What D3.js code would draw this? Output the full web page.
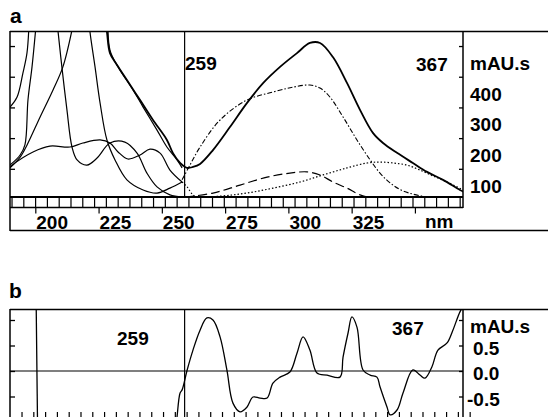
<!DOCTYPE html>
<html>
<head>
<meta charset="utf-8">
<script src="https://cdn.jsdelivr.net/npm/d3@7"></script>
<style>
  body { margin: 0; background: #fff; }
  svg { display: block; }
  text { font-family: Arial, "Liberation Sans", Helvetica, sans-serif; font-weight: bold; fill: #000; }
</style>
</head>
<body>
<svg width="548" height="417"></svg>
<script>
// ---- data (wavelength nm, mAU.s) ----
const xTicks = [200, 225, 250, 275, 300, 325, 350];
const xTickLabels = ["200", "225", "250", "275", "300", "325", ""];
const yTicksA = [100, 200, 300, 400, 500];
const yLabelsA = ["100", "200", "300", "400", "mAU.s"];
const yTicksB = [-0.5, 0, 0.5, 1.0];
const yLabelsB = [[-0.5, "-0.5"], [0, "0.0"], [0.5, "0.5"], [1.0, "mAU.s"]];
const markers = [259];

// main spectrum (thick solid)
const specMain = [[227.1,617],[228.3,546],[229.5,477],[232.3,438],[236.2,389],[241.4,324],[246.5,259],
  [252.0,194],[254.4,151],[257.2,119],[259.9,103],[262.3,106],[265.1,116],[270.2,161],[276.9,236],
  [283.6,314],[290.0,379],[296.7,432],[303.4,477],[308.5,510],[312.5,510],[317.6,464],[323.2,379],
  [328.3,292],[333.4,217],[337.4,184],[342.9,152],[349.2,119],[354.8,90],[361.1,64],[367.8,31],[369.5,24]];
// second solid close to main
const specMain2 = [[228.7,585],[229.5,487],[232.7,432],[238.6,357],[242.6,301],[248.1,226],[252.0,171],[256.0,129],[258.0,103]];
// spectra at low wavelength (thin solid)
const specL1 = [[190,301],[192.8,334],[195.1,412],[196.7,477],[197.5,568]];
const specL2 = [[190,112],[194.0,145],[195.9,178],[197.1,324],[198.7,432],[200.3,568]];
const specL3 = [[190,103],[194.0,138],[196.7,177],[201.9,269],[207.0,357],[210.9,432],[214.9,568]];
const specL5 = [[208.6,585],[209.0,546],[210.5,432],[212.5,292],[214.5,171],[216.5,129],[220.4,112],[224.4,135],
  [229.5,184],[235.4,187],[240.2,151],[244.1,86],[248.1,41],[253.2,15],[258.0,8]];
const specL6 = [[221.2,585],[221.6,546],[223.6,432],[225.6,314],[228.3,194],[231.5,129],[236.2,64],[242.6,31],
  [248.1,21],[253.2,37],[258.0,57]];
const specH1 = [[190,106],[190.8,112],[199.1,155],[205.8,174],[213.7,171],[218.8,184],[225.6,194],[229.5,184],
  [232.7,155],[236.6,132],[241.4,145],[245.3,164],[249.3,151],[253.2,96],[258.0,57]];
const specH1tail = [[258.0,57],[260.0,41],[262.3,15],[265.1,5],[270,2]];
// components
const compDashDot = [[258.0,64],[261.1,112],[265.1,171],[273.0,259],[283.6,324],[293.9,350],[301.8,366],
  [308.5,373],[312.5,363],[316.4,334],[321.6,269],[327.1,194],[332.3,129],[336.2,86],[340.2,54],[345.3,28],
  [354.8,8],[363.9,2]];
const compLongDash = [[259.2,8],[270.2,21],[280.9,47],[291.6,73],[300.6,86],[307.4,90],[312.5,80],[317.6,57],
  [323.2,37],[328.3,15],[333.4,5],[340.2,2]];
const compDotted = [[259.2,5],[273.0,11],[283.6,21],[293.9,37],[304.6,57],[313.7,80],[323.2,103],[331.1,119],
  [336.2,122],[341.3,119],[346.9,112],[352.0,96],[357.1,77],[362.7,57],[369.0,31]];
// first derivative (panel b)
const deriv = [[199.5,4],[200.3,1.5],[201.1,-2],[202,-5],[254,-5],[255.6,-1.06],[256.0,-0.90],[257.2,-0.43],
  [258.0,-0.37],[260.0,0.02],[262.3,0.41],[265.1,0.80],[267.8,1.04],[270.2,1.0],[273.0,0.67],[275.7,0.02],
  [278.1,-0.63],[280.9,-0.80],[283.6,-0.71],[286.0,-0.51],[288.8,-0.53],[291.6,-0.53],[293.9,-0.24],
  [296.7,-0.12],[300.6,-0.02],[303.4,0.35],[305.8,0.67],[308.5,0.41],[311.3,-0.04],[315.3,-0.08],
  [320.4,-0.12],[321.6,0.27],[323.6,0.75],[325.1,1.06],[327.1,0.86],[329.5,0.02],[332.3,-0.08],
  [335.0,-0.12],[336.2,-0.31],[339.0,-0.71],[340.2,-0.86],[343.0,-0.76],[345.3,-0.43],[349.2,0.02],
  [352.0,-0.08],[354.0,-0.14],[356.7,0.08],[359.1,0.41],[362.7,0.55],[365.0,0.80],[367.8,1.16],[369.5,1.3]];

const svg = d3.select("svg");

const left = 10, right = 463, edge = 548;
const x = d3.scaleLinear().domain([190, 369]).range([left, right]);
const ya = d3.scaleLinear().domain([0, 549]).range([199.5, 31]);
const yb = d3.scaleLinear().domain([0, 1]).range([371, 320]);

// clip regions
const defs = svg.append("defs");
defs.append("clipPath").attr("id", "clipA").append("rect")
  .attr("x", left).attr("y", 31).attr("width", right - left).attr("height", 166);
defs.append("clipPath").attr("id", "clipB").append("rect")
  .attr("x", left).attr("y", 309).attr("width", right - left).attr("height", 108);

const lineA = d3.line().x((d) => x(d[0])).y((d) => ya(d[1])).curve(d3.curveCatmullRom.alpha(0.5));
const lineB = d3.line().x((d) => x(d[0])).y((d) => yb(d[1])).curve(d3.curveCatmullRom.alpha(0.5));

const hline = (g, x1, x2, y, w) => g.append("line").attr("x1", x1).attr("x2", x2).attr("y1", y).attr("y2", y)
  .attr("stroke", "#000").attr("stroke-width", w || 1.3);
const vline = (g, xx, y1, y2, w) => g.append("line").attr("x1", xx).attr("x2", xx).attr("y1", y1).attr("y2", y2)
  .attr("stroke", "#000").attr("stroke-width", w || 1.3);

// ================= panel a =================
const ga = svg.append("g");
ga.append("text").attr("x", 10).attr("y", 23).style("font-size", "21px").text("a");

hline(ga, left, edge, 31.5, 1.5);
hline(ga, left, edge, 230.5, 1.5);
vline(ga, left, 31, 231, 1.5);
vline(ga, right, 31, 208, 1.5);

// spectra
const curves = ga.append("g").attr("clip-path", "url(#clipA)").attr("fill", "none").attr("stroke", "#000");
const series = [
  [specL1, 1.2, null], [specL2, 1.2, null], [specL3, 1.2, null], [specL5, 1.2, null],
  [specL6, 1.2, null], [specH1, 1.2, null], [specH1tail, 1.1, "1.5,2"],
  [specMain2, 1.2, null], [specMain, 1.8, null],
  [compDashDot, 1.1, "5,2,1.5,2"], [compLongDash, 1.2, "9,4"], [compDotted, 1.2, "1.5,2"]
];
curves.selectAll("path").data(series).enter().append("path")
  .attr("d", (d) => lineA(d[0]))
  .attr("stroke-width", (d) => d[1])
  .attr("stroke-dasharray", (d) => d[2]);

// marker line
markers.forEach((m) => vline(ga, x(m), 31, 197, 1.2));
ga.append("text").attr("x", 185).attr("y", 70).style("font-size", "19px").text("259");
ga.append("text").attr("x", 416).attr("y", 71).style("font-size", "19px").text("367");

// y ticks, inward on both sides
ga.append("g").attr("transform", `translate(${left},0)`)
  .call(d3.axisRight(ya).tickValues(yTicksA).tickSize(5).tickFormat(""))
  .call((g) => g.select(".domain").remove())
  .selectAll("line").attr("stroke-width", 1.3);
ga.append("g").attr("transform", `translate(${right},0)`)
  .call(d3.axisLeft(ya).tickValues(yTicksA).tickSize(4).tickFormat(""))
  .call((g) => g.select(".domain").remove())
  .selectAll("line").attr("stroke-width", 1.3);
ga.selectAll(".ylab").data(yTicksA).enter().append("text")
  .attr("x", 470).attr("y", (d) => ya(d) + 24)
  .style("font-size", "19px")
  .text((d, i) => yLabelsA[i]);

// wavelength strip with boxes
const cells = d3.range(190.8, 369.5, 4.66);
hline(ga, left, right, 197, 2);
hline(ga, left, right, 207.5, 1.3);
cells.forEach((c) => vline(ga, x(c), 197, 207.5, 1.2));
ga.append("g").attr("transform", "translate(0,207.5)")
  .call(d3.axisBottom(x).tickValues(xTicks).tickSize(6).tickFormat(""))
  .call((g) => g.select(".domain").remove())
  .selectAll("line").attr("stroke-width", 1.2);
ga.selectAll(".xlab").data(xTicks).enter().append("text")
  .attr("x", (d) => x(d) + 1).attr("y", 229)
  .style("font-size", "19px")
  .text((d, i) => xTickLabels[i]);
ga.append("text").attr("x", 425).attr("y", 228).style("font-size", "19px").text("nm");

// ================= panel b =================
const gb = svg.append("g");
gb.append("text").attr("x", 9).attr("y", 298).style("font-size", "21px").text("b");

hline(gb, left, edge, 309.5, 1.5);
vline(gb, left, 309, 417, 1.5);
vline(gb, right, 309, 417, 1.5);
hline(gb, left, right, yb(0), 1.2);
markers.forEach((m) => vline(gb, x(m), 309, 417, 1.2));

gb.append("path").attr("clip-path", "url(#clipB)")
  .attr("fill", "none").attr("stroke", "#000").attr("stroke-width", 1.3)
  .attr("d", lineB(deriv));

gb.append("g").attr("transform", `translate(${left},0)`)
  .call(d3.axisRight(yb).tickValues(yTicksB).tickSize(5).tickFormat(""))
  .call((g) => g.select(".domain").remove())
  .selectAll("line").attr("stroke-width", 1.3);
gb.append("g").attr("transform", `translate(${right},0)`)
  .call(d3.axisLeft(yb).tickValues(yTicksB).tickSize(4).tickFormat(""))
  .call((g) => g.select(".domain").remove())
  .selectAll("line").attr("stroke-width", 1.3);
gb.selectAll(".ylab").data(yLabelsB).enter().append("text")
  .attr("x", (d) => d[0] < 0 ? 467 : (d[0] > 0.9 ? 470 : 473))
  .attr("y", (d) => d[0] > 0.9 ? 333 : yb(d[0]) + 9)
  .style("font-size", "19px")
  .text((d) => d[1]);

// small ticks along the bottom
cells.forEach((c) => vline(gb, x(c) + 10, 412, 417, 1.2));

gb.append("text").attr("x", 117).attr("y", 345).style("font-size", "19px").text("259");
gb.append("text").attr("x", 392).attr("y", 335).style("font-size", "19px").text("367");
</script>
</body>
</html>
